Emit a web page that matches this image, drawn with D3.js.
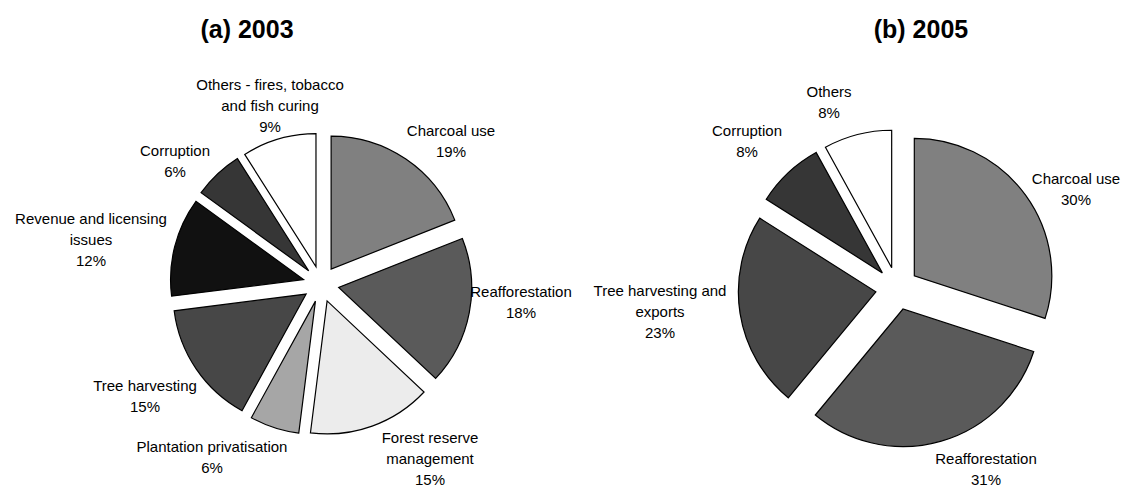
<!DOCTYPE html>
<html>
<head>
<meta charset="utf-8">
<script src="https://cdn.jsdelivr.net/npm/d3@7"></script>
<style>
  html, body { margin: 0; padding: 0; background: #fff; }
  svg { display: block; }
  text { font-family: "Liberation Sans", Arial, sans-serif; fill: #000; }
</style>
</head>
<body>
<svg id="chart" width="1125" height="489"></svg>
<script>
// ---------- data ----------
const categories2003 = [
  "Charcoal use", "Reafforestation", "Forest reserve management",
  "Plantation privatisation", "Tree harvesting", "Revenue and licensing issues",
  "Corruption", "Others - fires, tobacco and fish curing"
];
const values2003 = [19, 18, 15, 6, 15, 12, 6, 9];
const labelLines2003 = [
  ["Charcoal use"], ["Reafforestation"], ["Forest reserve", "management"],
  ["Plantation privatisation"], ["Tree harvesting"], ["Revenue and licensing", "issues"],
  ["Corruption"], ["Others - fires, tobacco", "and fish curing"]
];
const fills2003 = ["#808080", "#5a5a5a", "#ececec", "#a6a6a6", "#474747", "#111111", "#363636", "#ffffff"];

const categories2005 = [
  "Charcoal use", "Reafforestation", "Tree harvesting and exports", "Corruption", "Others"
];
const values2005 = [30, 31, 23, 8, 8];
const labelLines2005 = [
  ["Charcoal use"], ["Reafforestation"], ["Tree harvesting and", "exports"], ["Corruption"], ["Others"]
];
const fills2005 = ["#808080", "#5a5a5a", "#474747", "#363636", "#ffffff"];

const titles = ["(a) 2003", "(b) 2005"];

// ---------- layout ----------
const layout = [
  { cx: 321, cy: 284, r: 133, explode: 18, titleX: 247, titleY: 29,
    labelOffsets: [[130,-142.5],[200,18.5],[109,175],[-109,173],[-176,112],[-230,-44],[-146,-122.5],[-51,-178]] },
  { cx: 897, cy: 288.5, r: 137.5, explode: 21.4, titleX: 921, titleY: 29,
    labelOffsets: [[179,-99],[89,181],[-237,23.5],[-150,-147],[-68,-186]] }
];
const lineH = 21;

const svg = d3.select("#chart");

const charts = [
  { cats: categories2003, vals: values2003, lines: labelLines2003, fills: fills2003 },
  { cats: categories2005, vals: values2005, lines: labelLines2005, fills: fills2005 }
];

charts.forEach((c, ci) => {
  const L = layout[ci];
  const g = svg.append("g").attr("transform", `translate(${L.cx},${L.cy})`);
  const data = c.cats.map((name, i) => ({ name, value: c.vals[i], lines: c.lines[i], fill: c.fills[i] }));
  const pie = d3.pie().sort(null).value(d => d.value);
  const arc = d3.arc().innerRadius(0).outerRadius(L.r);
  const arcs = pie(data);

  g.selectAll("path.slice")
    .data(arcs)
    .join("path")
    .attr("class", "slice")
    .attr("d", arc)
    .attr("fill", d => d.data.fill)
    .attr("stroke", "#000")
    .attr("stroke-width", 1.2)
    .attr("stroke-linejoin", "miter")
    .attr("transform", d => {
      const a = (d.startAngle + d.endAngle) / 2;
      return `translate(${L.explode * Math.sin(a)},${-L.explode * Math.cos(a)})`;
    });

  const lbl = g.selectAll("text.lbl")
    .data(arcs)
    .join("text")
    .attr("class", "lbl")
    .attr("text-anchor", "middle")
    .attr("font-size", 15)
    .attr("transform", (d, i) => `translate(${L.labelOffsets[i][0]},${L.labelOffsets[i][1]})`);

  lbl.each(function(d) {
    const lines = d.data.lines.concat([d.data.value + "%"]);
    const n = lines.length;
    d3.select(this).selectAll("tspan")
      .data(lines)
      .join("tspan")
      .attr("x", 0)
      .attr("y", (t, j) => (j - (n - 1) / 2) * lineH)
      .attr("dy", "0.35em")
      .text(t => t);
  });

  svg.append("text")
    .attr("x", L.titleX)
    .attr("y", L.titleY)
    .attr("dy", "0.35em")
    .attr("text-anchor", "middle")
    .attr("font-size", 25)
    .attr("font-weight", "bold")
    .text(titles[ci]);
});
</script>
</body>
</html>
